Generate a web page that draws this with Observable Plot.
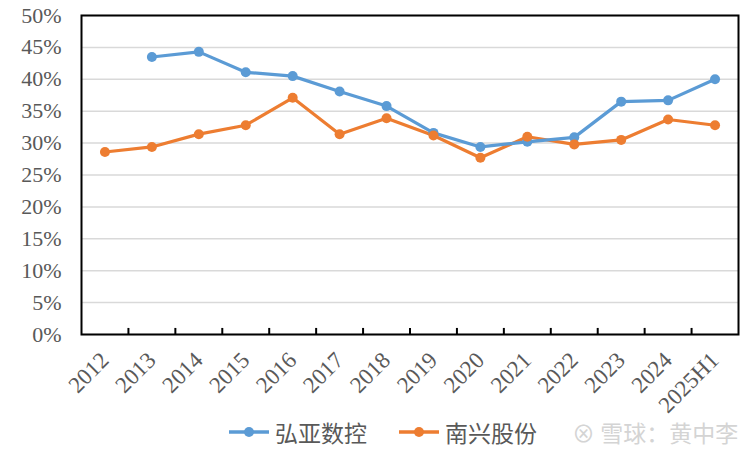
<!DOCTYPE html>
<html>
<head>
<meta charset="utf-8">
<script src="https://cdn.jsdelivr.net/npm/d3@7"></script>
<script src="https://cdn.jsdelivr.net/npm/@observablehq/plot@0.6"></script>
<style>
  html, body { margin: 0; padding: 0; background: #fff; }
  #wrap { position: relative; width: 750px; height: 451px; overflow: hidden; }
  #chart { position: absolute; left: 0; top: 0; }
  #legend { position: absolute; left: 0; top: 414px; width: 750px; height: 36px; font-family: "Noto Sans CJK SC", sans-serif; font-size: 23px; color: #595959; }
  .item { position: absolute; top: 0; display: flex; align-items: center; height: 36px; }
  .item svg { margin-right: 5px; }
  #wm { position: absolute; left: 572px; top: 414px; height: 36px; line-height: 36px; font-family: "Noto Sans CJK SC", sans-serif; font-size: 23px; color: #d4d4d4; }
</style>
</head>
<body>
<div id="wrap">
  <div id="chart"></div>
  <div id="legend"></div>
  <div id="wm">⊗ 雪球：黄中李</div>
</div>
<script>
const categories = ["2012","2013","2014","2015","2016","2017","2018","2019","2020","2021","2022","2023","2024","2025H1"];
const hongya = [null, 43.5, 44.3, 41.1, 40.5, 38.1, 35.8, 31.6, 29.4, 30.2, 30.9, 36.5, 36.7, 40.0];
const nanxing = [28.6, 29.4, 31.4, 32.8, 37.1, 31.4, 33.9, 31.2, 27.7, 31.0, 29.8, 30.5, 33.7, 32.8];
const seriesNames = ["弘亚数控", "南兴股份"];
const colors = ["#5B9BD5", "#ED7D31"];
const yTicks = [0, 5, 10, 15, 20, 25, 30, 35, 40, 45, 50];

const rows = [];
categories.forEach((c, i) => {
  if (hongya[i] != null) rows.push({i, series: seriesNames[0], v: hongya[i]});
  if (nanxing[i] != null) rows.push({i, series: seriesNames[1], v: nanxing[i]});
});
const idx = categories.map((_, i) => i);
const boundaries = idx.slice(0, -1).map(i => i + 0.5);

const serif = "'Liberation Serif', 'Times New Roman', 'DejaVu Serif', serif";

const chart = Plot.plot({
  width: 750,
  height: 451,
  marginTop: 15,
  marginBottom: 117,
  marginLeft: 81,
  marginRight: 12,
  style: { background: "transparent", overflow: "visible" },
  x: { type: "linear", domain: [-0.5, categories.length - 0.5] },
  y: { domain: [0, 50] },
  color: { domain: seriesNames, range: colors },
  marks: [
    Plot.gridY(yTicks, { stroke: "#d9d9d9", strokeOpacity: 1, strokeWidth: 1.5 }),
    Plot.axisY(yTicks, { tickFormat: d => d + "%", tickSize: 0, tickPadding: 20, fontSize: 22, fontFamily: serif, fill: "#595959", label: null }),
    Plot.axisX(idx, { tickFormat: i => categories[i], tickRotate: -45, tickSize: 0, tickPadding: 22, fontSize: 23, fontFamily: serif, fill: "#595959", label: null }),
    Plot.line(rows, { x: "i", y: "v", z: "series", stroke: "series", strokeWidth: 3.2 }),
    Plot.dot(rows, { x: "i", y: "v", fill: "series", r: 5 }),
    Plot.ruleX(boundaries, { y1: 0, y2: 0.95, stroke: "#000", strokeWidth: 2 }),
    Plot.frame({ stroke: "#000", strokeWidth: 2 })
  ]
});
chart.querySelectorAll("text").forEach(t => t.style.fontFamily = serif);
document.getElementById("chart").appendChild(chart);

// legend
const legend = document.getElementById("legend");
const legendLefts = [228, 398];
seriesNames.forEach((name, k) => {
  const item = document.createElement("div");
  item.className = "item";
  item.style.left = legendLefts[k] + "px";
  item.innerHTML = `<svg width="42" height="12"><line x1="1" y1="6" x2="41" y2="6" stroke="${colors[k]}" stroke-width="3.5"/><circle cx="21" cy="6" r="5" fill="${colors[k]}"/></svg><span>${name}</span>`;
  legend.appendChild(item);
});
</script>
</body>
</html>
